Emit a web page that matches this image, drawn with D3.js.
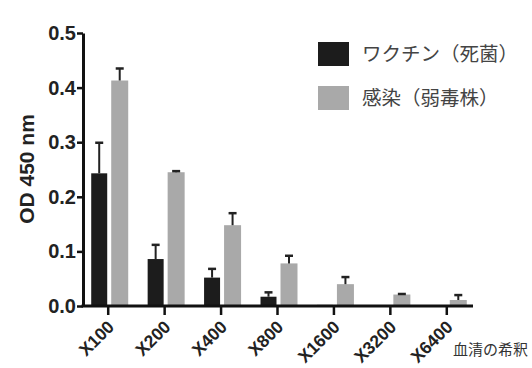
<!DOCTYPE html>
<html><head><meta charset="utf-8">
<script src="https://cdn.jsdelivr.net/npm/d3@7"></script>
<style>html,body{margin:0;padding:0;background:#fff;}svg{display:block;}</style>
</head><body>
<svg id="c" width="532" height="368"></svg>
<script>
const categories = ["X100","X200","X400","X800","X1600","X3200","X6400"];
const vaccine = [0.243, 0.086, 0.052, 0.017, 0.002, 0.0, 0.0];
const vaccineErr = [0.056, 0.026, 0.016, 0.008, 0.0, 0.0, 0.0];
const infection = [0.413, 0.245, 0.148, 0.078, 0.040, 0.021, 0.011];
const infectionErr = [0.022, 0.002, 0.022, 0.014, 0.013, 0.001, 0.009];
const seriesNames = ["ワクチン（死菌）", "感染（弱毒株）"];
const yTicks = [0, 0.1, 0.2, 0.3, 0.4, 0.5];
const yLabel = "OD 450 nm";
const xLabel = "血清の希釈";

const svg = d3.select("#c");
const y = d3.scaleLinear().domain([0, 0.5]).range([306, 33]);
const x = d3.scaleBand().domain(categories).range([80, 475]).padding(0);
const colors = ["#1c1c1c", "#a9a9a9"];
const font = "Liberation Sans, Arial, sans-serif";

// bars
const g = svg.append("g");
const series = [
  {vals: vaccine, err: vaccineErr, off: -17, w: 16, color: colors[0]},
  {vals: infection, err: infectionErr, off: 3, w: 17, color: colors[1]}
];
series.forEach(s => {
  categories.forEach((c, i) => {
    const cx = x(c) + x.bandwidth() / 2;
    const x0 = cx + s.off;
    g.append("rect").attr("x", x0).attr("y", y(s.vals[i]))
      .attr("width", s.w).attr("height", y(0) - y(s.vals[i])).attr("fill", s.color);
    if (s.err[i] > 0) {
      const mx = x0 + s.w / 2;
      g.append("line").attr("x1", mx).attr("x2", mx)
        .attr("y1", y(s.vals[i])).attr("y2", y(s.vals[i] + s.err[i]))
        .attr("stroke", "#222").attr("stroke-width", 2);
      g.append("line").attr("x1", mx - 4).attr("x2", mx + 4)
        .attr("y1", y(s.vals[i] + s.err[i])).attr("y2", y(s.vals[i] + s.err[i]))
        .attr("stroke", "#222").attr("stroke-width", 2.5);
    }
  });
});

// y axis
const yAxis = d3.axisLeft(y).tickValues(yTicks).tickFormat(d3.format(".1f")).tickSize(6).tickSizeOuter(0);
const ya = svg.append("g").attr("transform", "translate(83,0)").call(yAxis);
ya.select(".domain").attr("stroke", "#111").attr("stroke-width", 3);
ya.selectAll(".tick line").attr("stroke", "#111").attr("stroke-width", 2.5);
ya.selectAll(".tick text").attr("font-family", font).attr("font-weight", "bold")
  .attr("font-size", 20).attr("fill", "#222").attr("x", -7);

// x axis
const xAxis = d3.axisBottom(x).tickSize(9).tickSizeOuter(0);
const xa = svg.append("g").attr("transform", "translate(0,306)").call(xAxis);
xa.select(".domain").attr("d", "M81.5,0H473").attr("stroke", "#111").attr("stroke-width", 3);
xa.selectAll(".tick line").attr("stroke", "#111").attr("stroke-width", 2.5);
xa.selectAll(".tick text").attr("font-family", font).attr("font-weight", "bold")
  .attr("font-size", 17.5).attr("fill", "#222")
  .attr("text-anchor", "end").attr("dy", null).attr("y", 0)
  .attr("transform", "translate(7,22) rotate(-45)");

// y label
svg.append("text").attr("transform", "translate(34,169) rotate(-90)")
  .attr("text-anchor", "middle").attr("font-family", font).attr("font-weight", "bold")
  .attr("font-size", 21).attr("fill", "#222").text(yLabel);

// x label
svg.append("text").attr("x", 453).attr("y", 355)
  .attr("font-family", "Noto Sans CJK JP, sans-serif").attr("font-size", 15)
  .attr("fill", "#333").text(xLabel);

// legend
const legY = [54, 98];
seriesNames.forEach((n, i) => {
  svg.append("rect").attr("x", 318).attr("y", legY[i] - 12).attr("width", 31).attr("height", 24)
    .attr("fill", colors[i]);
  svg.append("text").attr("x", 362).attr("y", legY[i]).attr("dy", "0.36em")
    .attr("font-family", "Noto Sans CJK JP, sans-serif").attr("font-size", 19.5)
    .attr("fill", "#444").text(n);
});
</script>
</body></html>
